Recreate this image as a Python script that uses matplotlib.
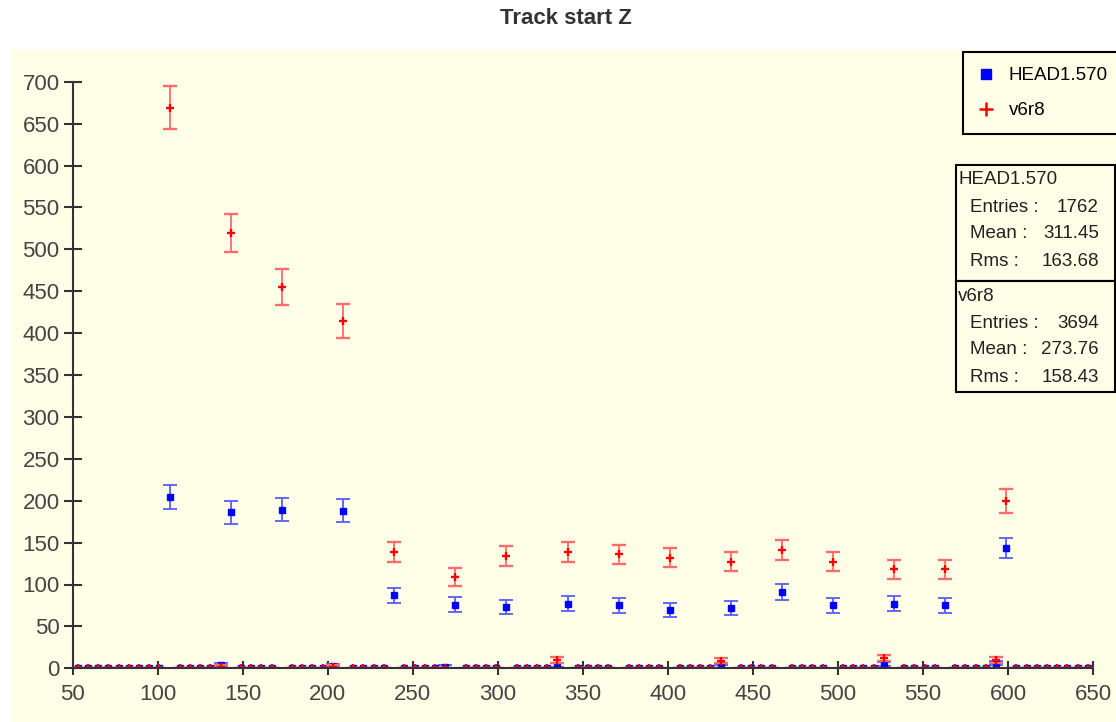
import numpy as np
import matplotlib
matplotlib.use("Agg")
import matplotlib.pyplot as plt
from matplotlib.patches import Rectangle
from matplotlib.lines import Line2D

# ---------------- data ----------------
title = "Track start Z"
x_low, x_high, n_bins = 50, 650, 100
series_names = ["HEAD1.570", "v6r8"]

# bin contents (100 bins of width 6 from 50 to 650)
head_counts = [
    0, 0, 0, 0, 0, 0, 0, 0, 0, 204, 0, 0, 0, 0, 4, 186, 0, 0, 0, 0,
    189, 0, 0, 0, 0, 3, 188, 0, 0, 0, 0, 87, 0, 0, 0, 0, 2, 76, 0, 0,
    0, 0, 73, 0, 0, 0, 0, 1, 77, 0, 0, 0, 0, 75, 0, 0, 0, 0, 70, 0,
    0, 0, 0, 2, 72, 0, 0, 0, 0, 91, 0, 0, 0, 0, 75, 0, 0, 0, 0, 5,
    77, 0, 0, 0, 0, 75, 0, 0, 0, 0, 6, 143, 0, 0, 0, 0, 0, 0, 0, 0,
]
v6r8_counts = [
    0, 0, 0, 0, 0, 0, 0, 0, 0, 669, 0, 0, 0, 0, 2, 519, 0, 0, 0, 0,
    455, 0, 0, 0, 0, 2, 414, 0, 0, 0, 0, 139, 0, 0, 0, 0, 0, 109, 0, 0,
    0, 0, 134, 0, 0, 0, 0, 10, 139, 0, 0, 0, 0, 136, 0, 0, 0, 0, 132, 0,
    0, 0, 0, 9, 127, 0, 0, 0, 0, 141, 0, 0, 0, 0, 127, 0, 0, 0, 0, 12,
    118, 0, 0, 0, 0, 118, 0, 0, 0, 0, 10, 200, 0, 0, 0, 0, 0, 0, 0, 0,
]
stats = {
    "HEAD1.570": [("Entries :", "1762"), ("Mean :", "311.45"), ("Rms :", "163.68")],
    "v6r8": [("Entries :", "3694"), ("Mean :", "273.76"), ("Rms :", "158.43")],
}
x_ticks = list(range(50, 651, 50))
y_ticks = list(range(0, 701, 50))

# ---------------- figure ----------------
W, H = 1116, 722
fig = plt.figure(figsize=(W / 100, H / 100), dpi=100, facecolor="white")
FONT = ["Liberation Sans", "DejaVu Sans"]
panel_col = "#FFFFE8"

def fx(x):
    return x / W

def fy(y):
    return 1 - y / H

# yellow panel
fig.patches.append(Rectangle((fx(12), 0), 1 - fx(12), fy(50), transform=fig.transFigure,
                             facecolor=panel_col, edgecolor="none", zorder=-5))

ax_l, ax_r = 72.7, 1093.0
ax_t, ax_b = 50.0, 668.3
ax = fig.add_axes([fx(ax_l), fy(ax_b), fx(ax_r - ax_l), fy(ax_t) - fy(ax_b)])
ax.set_zorder(2)
ax.set_facecolor("none")
ymax = 700 * (ax_b - ax_t) / (ax_b - 81.7)
ax.set_xlim(x_low, x_high)
ax.set_ylim(0, ymax)

edges = np.linspace(x_low, x_high, n_bins + 1)
centers = 0.5 * (edges[:-1] + edges[1:])
head = np.array(head_counts, dtype=float)
v6 = np.array(v6r8_counts, dtype=float)

ax.errorbar(centers, head, yerr=np.sqrt(head), fmt="s", color="#0000FF", ms=4.3,
            mec="#0000FF", ecolor="#5a5aff", elinewidth=1.3, capsize=5, capthick=1.3,
            zorder=3)
ax.errorbar(centers, v6, yerr=np.sqrt(v6), fmt="+", color="#FF0000", ms=5.5, mew=1.7,
            ecolor="#ff6a6a", elinewidth=1.3, capsize=5, capthick=1.3, zorder=4)

for s in ["top", "right"]:
    ax.spines[s].set_visible(False)
for s in ["left", "bottom"]:
    ax.spines[s].set_color("#333333")
    ax.spines[s].set_linewidth(1.5)
    ax.spines[s].set_zorder(5)
ax.spines["left"].set_bounds(0, 700)
ax.set_xticks(x_ticks)
ax.set_yticks(y_ticks)
ax.tick_params(axis="x", direction="inout", length=10.5, width=1.5, color="#333333",
               labelcolor="#444444", pad=6)
ax.tick_params(axis="y", direction="inout", length=13, width=1.5, color="#333333",
               labelcolor="#444444", pad=3)
for lab in ax.get_xticklabels() + ax.get_yticklabels():
    lab.set_fontfamily(FONT)
    lab.set_fontsize(16)

# title
fig.text(fx(565.5), fy(18), title, ha="center", va="center", fontsize=16, fontweight="bold",
         family=FONT, color="#333333")

# legend
handles = [Line2D([], [], marker="s", ls="none", color="#0000FF", ms=7),
           Line2D([], [], marker="+", ls="none", color="#FF0000", ms=10, mew=1.8)]
leg = fig.legend(handles, series_names, loc="upper left",
                 bbox_to_anchor=(fx(963), fy(52)), bbox_transform=fig.transFigure,
                 prop={"family": FONT, "size": 13.5}, frameon=True, fancybox=False,
                 facecolor=panel_col, edgecolor="black", framealpha=1,
                 borderpad=0.8, labelspacing=0.97, handlelength=0.9, handletextpad=0.75,
                 borderaxespad=0)
leg.get_frame().set_linewidth(1.5)
leg.set_zorder(8)

# stats boxes
box_x0, box_x1 = 956, 1115
boxes = [(165, 281, "HEAD1.570"), (281, 392, "v6r8")]
for (top, bot, name) in boxes:
    fig.patches.append(Rectangle((fx(box_x0), fy(bot)), fx(box_x1 - box_x0), fy(top) - fy(bot),
                                 transform=fig.transFigure, facecolor=panel_col,
                                 edgecolor="black", linewidth=1.5, zorder=6))
    fig.text(fx(958), fy(top + 15), name, ha="left", va="center", fontsize=13.5,
             family=FONT, color="#222222", zorder=7)
    for k, (lab, val) in enumerate(stats[name]):
        yy = top + 42 + 27 * k
        fig.text(fx(970), fy(yy), lab, ha="left", va="center", fontsize=13.5,
                 family=FONT, color="#222222", zorder=7)
        fig.text(fx(1099), fy(yy), val, ha="right", va="center", fontsize=13.5,
                 family=FONT, color="#222222", zorder=7)

fig.savefig("out.png", dpi=100, facecolor="white")
